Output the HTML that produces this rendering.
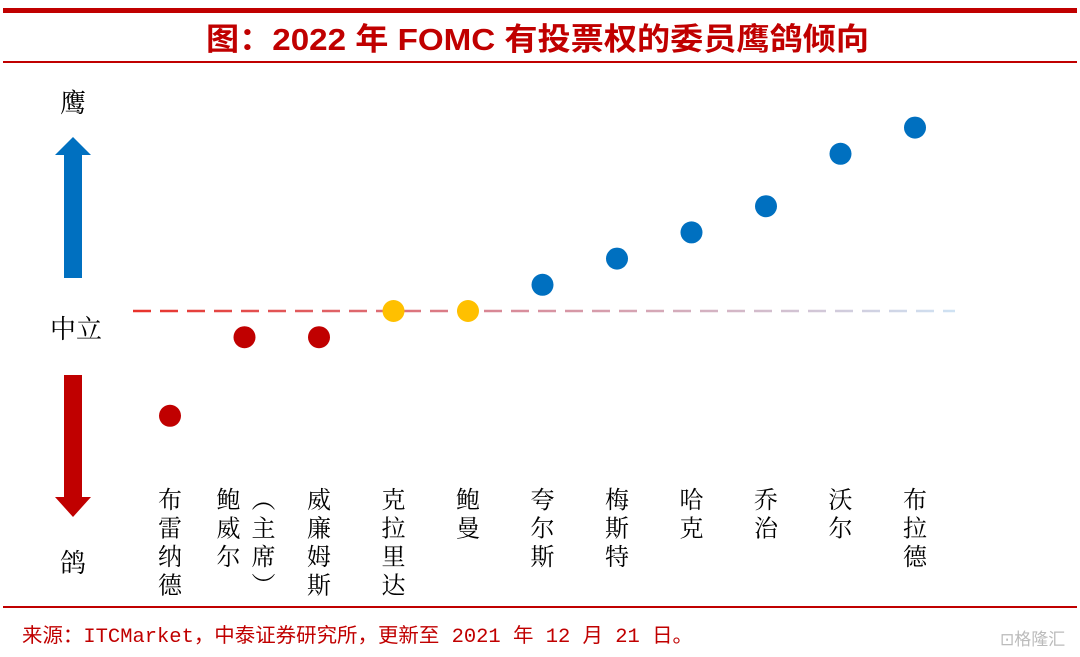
<!DOCTYPE html>
<html><head><meta charset="utf-8"><style>
body{margin:0;background:#fff;width:1080px;height:657px;overflow:hidden}
svg{display:block}
</style></head><body>
<svg width="1080" height="657">
<defs>
<linearGradient id="dg" x1="133" x2="955" y1="0" y2="0" gradientUnits="userSpaceOnUse">
<stop offset="0" stop-color="#e8322b"/><stop offset="0.45" stop-color="#d88a98"/><stop offset="1" stop-color="#cfe2f3"/></linearGradient>
</defs>
<rect x="3" y="8" width="1074" height="5" fill="#c00000"/>
<text x="206" y="50" textLength="663" lengthAdjust="spacingAndGlyphs" font-family="'Liberation Sans','Noto Sans CJK SC',sans-serif" font-weight="bold" font-size="31" fill="#c00000">图：2022 年 FOMC 有投票权的委员鹰鸽倾向</text>
<rect x="3" y="61" width="1074" height="2" fill="#c00000"/>
<rect x="3" y="606" width="1074" height="2" fill="#c00000"/>
<text x="22" y="642" textLength="671" lengthAdjust="spacingAndGlyphs" font-family="'Liberation Mono','Noto Sans CJK SC',monospace" font-size="20" fill="#c00000">来源：ITCMarket，中泰证券研究所，更新至 2021 年 12 月 21 日。</text>
<text x="1000" y="645" font-family="'Noto Sans CJK SC',sans-serif" font-size="17" fill="#bbb">⊡格隆汇</text>
<text x="73" y="112" text-anchor="middle" font-family="'Noto Serif CJK SC',serif" font-size="26" fill="#000">鹰</text>
<text x="76" y="338" text-anchor="middle" font-family="'Noto Serif CJK SC',serif" font-size="26" fill="#000">中立</text>
<text x="73" y="572" text-anchor="middle" font-family="'Noto Serif CJK SC',serif" font-size="26" fill="#000">鸽</text>
<polygon points="73,137 91,155 82,155 82,278 64,278 64,155 55,155" fill="#0070c0"/>
<polygon points="73,517 91,497 82,497 82,375 64,375 64,497 55,497" fill="#c00000"/>
<line x1="133" y1="311" x2="955" y2="311" stroke="url(#dg)" stroke-width="2.5" stroke-dasharray="18,9"/>
<g id="marks"></g>
<g id="labels"></g>
</svg>
<script>
const members=["布雷纳德","鲍威尔（主席）","威廉姆斯","克拉里达","鲍曼","夸尔斯","梅斯特","哈克","乔治","沃尔","布拉德"];
const stance=[-4,-1,-1,0,0,1,2,3,4,6,7];
const NS="http://www.w3.org/2000/svg";
function xPos(i){return 170+i*74.5;}
function yPos(v){return 311-v*26.2;}
function color(v){return v<0?"#c00000":(v===0?"#ffc000":"#0070c0");}
const mg=document.getElementById("marks"),lg=document.getElementById("labels");
stance.forEach((v,i)=>{
 const c=document.createElementNS(NS,"circle");
 c.setAttribute("cx",xPos(i));c.setAttribute("cy",yPos(v));c.setAttribute("r",11);c.setAttribute("fill",color(v));
 
 
 mg.appendChild(c);
});
function col(chars,x){
 chars.forEach((ch,k)=>{
  const t=document.createElementNS(NS,"text");
  t.setAttribute("x",x);t.setAttribute("y",508+k*28.5);t.setAttribute("text-anchor","middle");
  t.setAttribute("font-family","'Noto Serif CJK SC',serif");t.setAttribute("font-size","24");t.setAttribute("fill","#000");
  t.textContent=ch;
  
  
  lg.appendChild(t);
 });
}
members.forEach((m,i)=>{
 if(m.indexOf("（")>=0){
  col(["鲍","威","尔"],xPos(i)-16);
  col(["︵","主","席","︶"],xPos(i)+19);
 } else col(Array.from(m),xPos(i));
});
</script>
</body></html>
